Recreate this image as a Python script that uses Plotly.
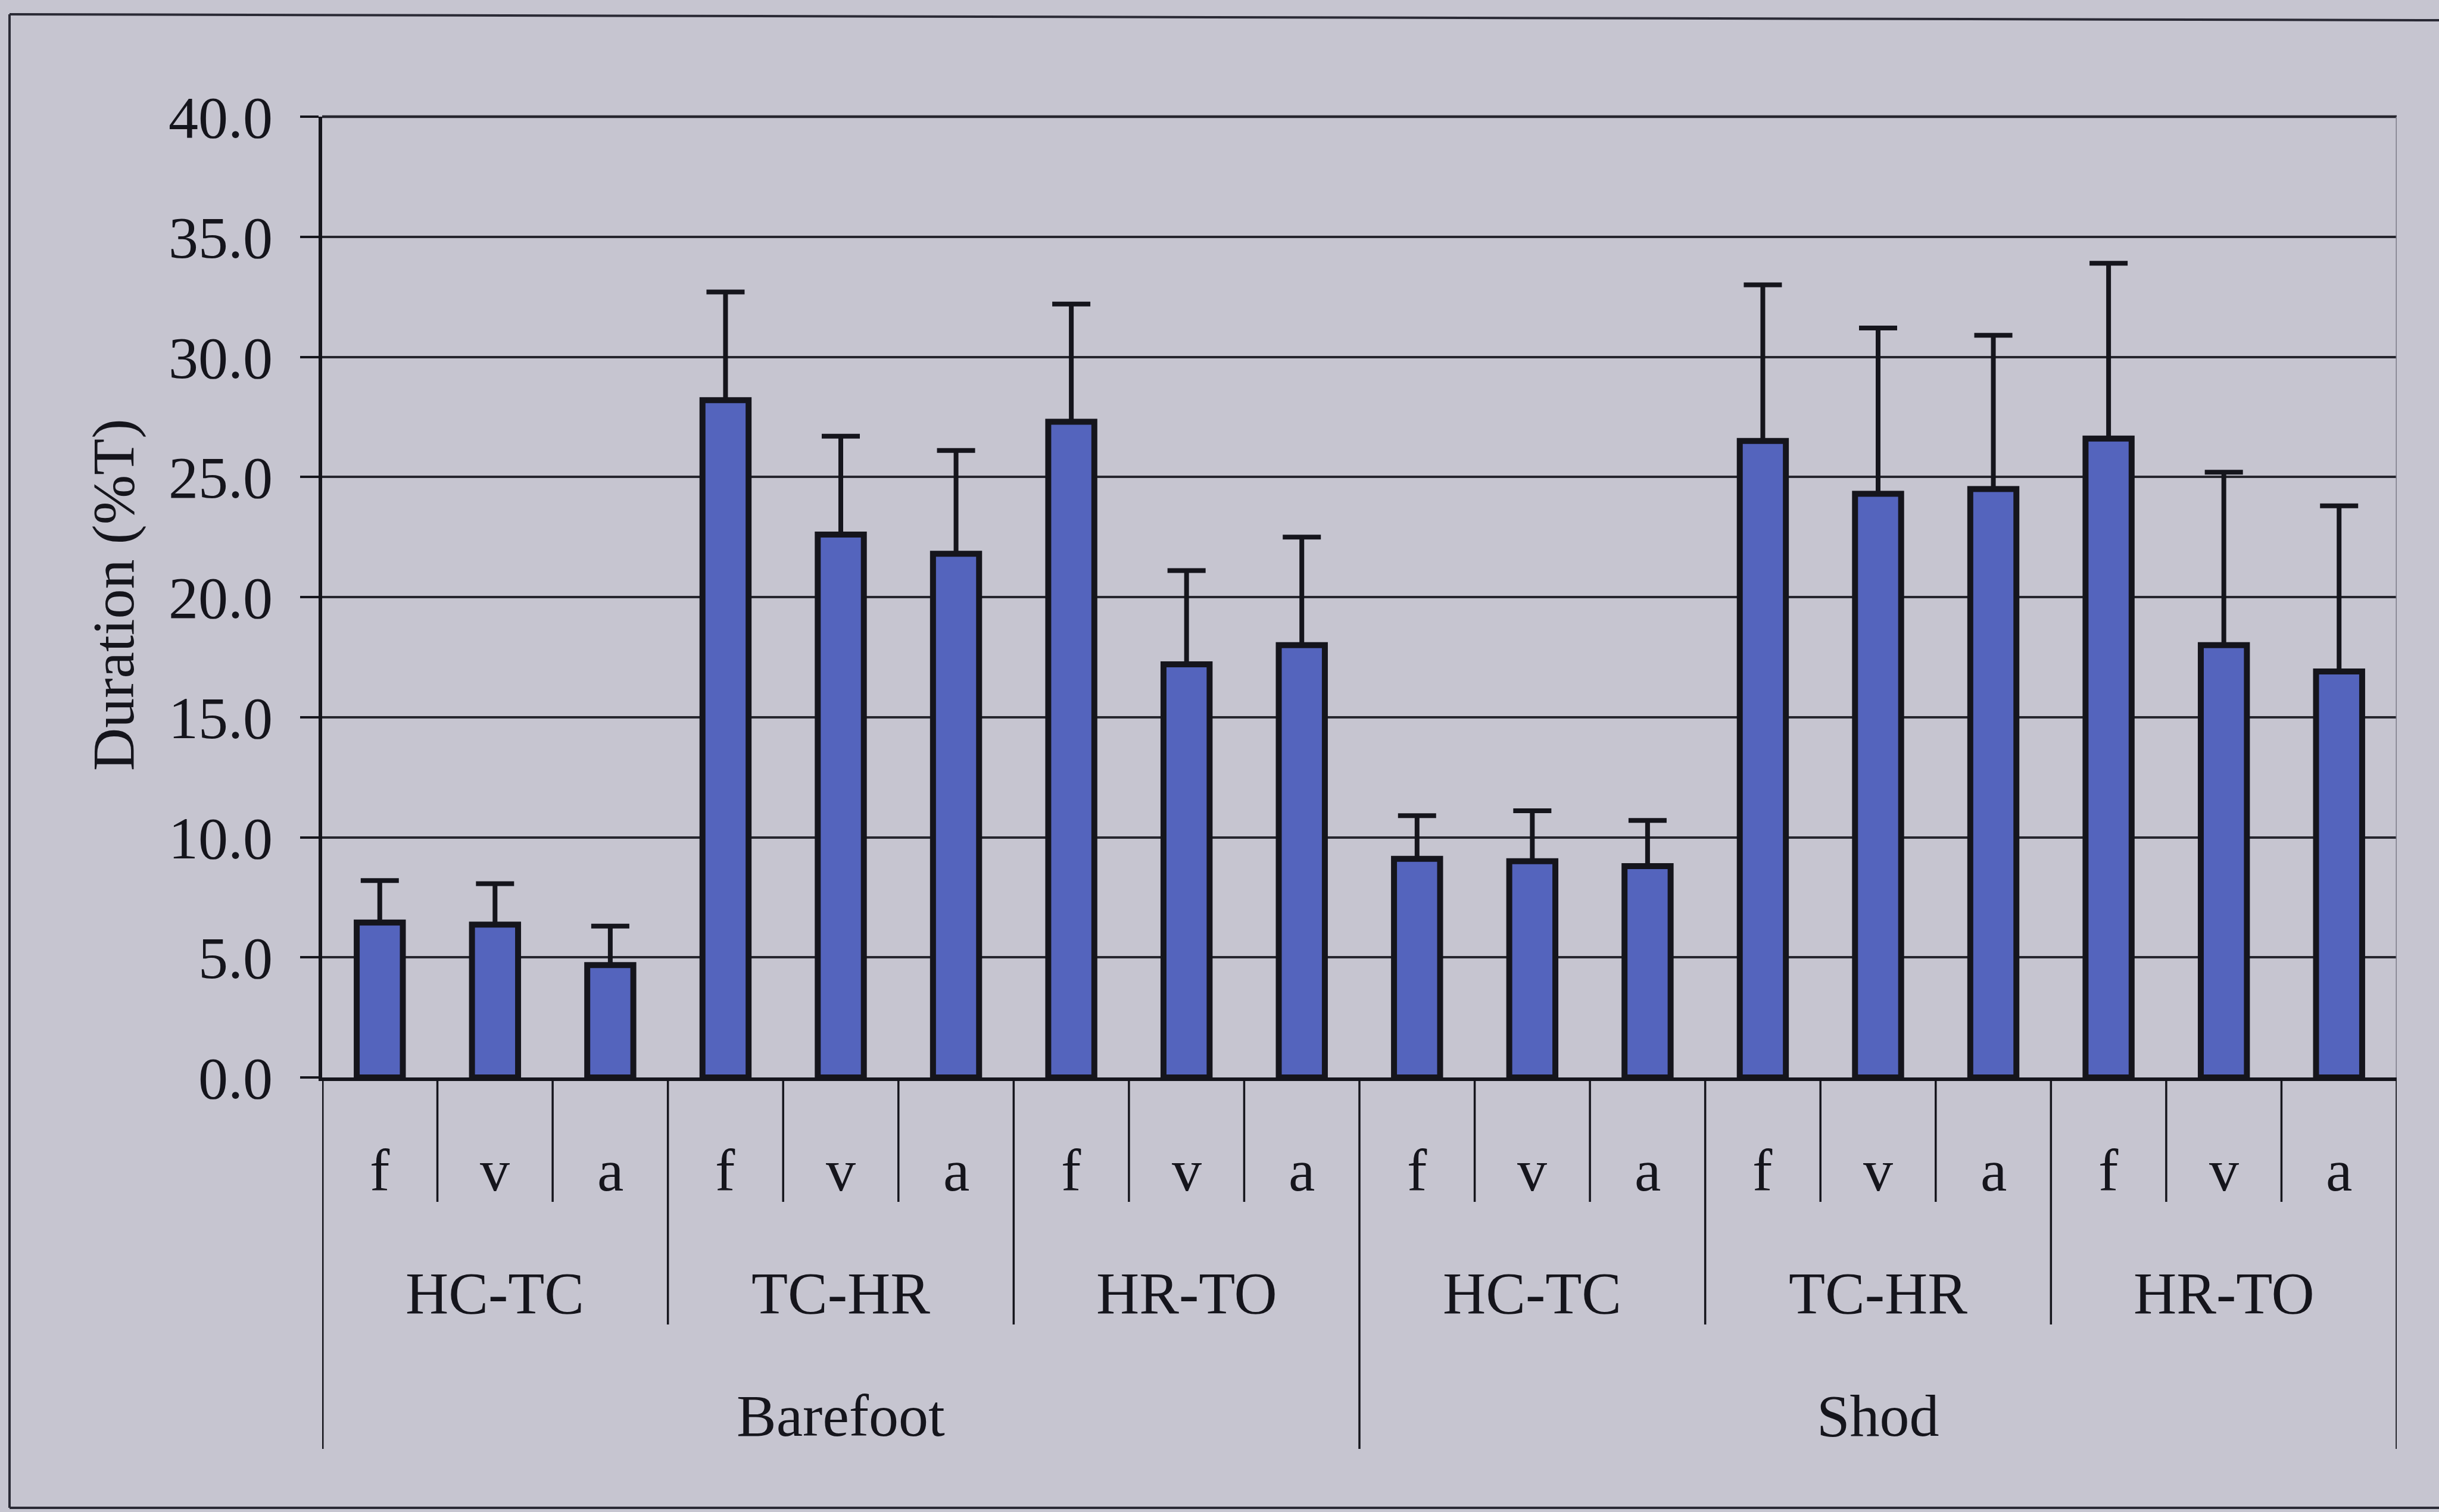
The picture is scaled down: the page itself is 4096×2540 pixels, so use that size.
import plotly.graph_objects as go

# ---------------- data ----------------
conditions = ["Barefoot", "Shod"]
phases = ["HC-TC", "TC-HR", "HR-TO"]
directions = ["f", "v", "a"]
duration_mean = [6.45, 6.36, 4.68, 28.2, 22.6, 21.8, 27.3, 17.2, 18.0,
                 9.1, 9.0, 8.8, 26.5, 24.3, 24.5, 26.6, 18.0, 16.9]
duration_sd = [1.75, 1.71, 1.62, 4.5, 4.1, 4.3, 4.9, 3.9, 4.5,
               1.8, 2.1, 1.9, 6.5, 6.9, 6.4, 7.3, 7.2, 6.9]
y_ticks = [0, 5, 10, 15, 20, 25, 30, 35, 40]
y_title = "Duration (%T)"

# ---------------- layout constants (pixels) ----------------
W, H = 4096, 2540
L, R, T, B = 541, 4025, 196, 1810
BG = "#c6c5d0"
BAR = "#5464bd"
INK = "#15151c"
FONT = "Liberation Serif"
FS = 100


def ypap(px):
    return (B - px) / (B - T)


def xpap(px):
    return (px - L) / (R - L)


n_dir = len(directions)
n_grp = len(phases) * n_dir
x_idx = list(range(len(duration_mean)))

fig = go.Figure()
fig.add_trace(go.Bar(
    x=x_idx,
    y=duration_mean,
    width=0.40,
    marker=dict(color=BAR, line=dict(color=INK, width=10)),
    error_y=dict(type="data", symmetric=False, array=duration_sd,
                 arrayminus=[0] * len(duration_sd),
                 color=INK, thickness=8, width=32),
    showlegend=False,
))

annotations = []
# direction labels
for i in x_idx:
    annotations.append(dict(x=i, y=ypap(1966), xref="x", yref="paper",
                            text=directions[i % n_dir], showarrow=False,
                            xanchor="center", yanchor="middle",
                            font=dict(family=FONT, size=FS, color=INK)))
# phase labels
for c in range(len(conditions)):
    for p in range(len(phases)):
        center = c * n_grp + p * n_dir + (n_dir - 1) / 2
        annotations.append(dict(x=center, y=ypap(2172), xref="x", yref="paper",
                                text=phases[p], showarrow=False,
                                xanchor="center", yanchor="middle",
                                font=dict(family=FONT, size=FS, color=INK)))
    center = c * n_grp + (n_grp - 1) / 2
    annotations.append(dict(x=center, y=ypap(2378), xref="x", yref="paper",
                            text=conditions[c], showarrow=False,
                            xanchor="center", yanchor="middle",
                            font=dict(family=FONT, size=FS, color=INK)))
# y title
annotations.append(dict(x=xpap(190), y=ypap(1000), xref="paper", yref="paper",
                        text=y_title, showarrow=False, textangle=-90,
                        xanchor="center", yanchor="middle",
                        font=dict(family=FONT, size=FS, color=INK)))

shapes = []
# top border of plot area (at the 40.0 line)
shapes.append(dict(type="line", xref="x", yref="paper",
                   x0=-0.5, x1=len(x_idx) - 0.5,
                   y0=1, y1=1,
                   line=dict(color="#26262e", width=4.5)))
# category table separators
for b in range(len(x_idx) + 1):
    if b % n_grp == 0:
        bottom = 2434
        lw = 5 if b == 0 else 3.5
    elif b % n_dir == 0:
        bottom = 2225
        lw = 3.5
    else:
        bottom = 2019
        lw = 3.5
    shapes.append(dict(type="line", xref="x", yref="paper",
                       x0=b - 0.5, x1=b - 0.5, y0=ypap(B), y1=ypap(bottom),
                       line=dict(color=INK, width=lw)))
# right border of plot area
shapes.append(dict(type="line", xref="x", yref="y",
                   x0=len(x_idx) - 0.5, x1=len(x_idx) - 0.5,
                   y0=y_ticks[0], y1=y_ticks[-1],
                   line=dict(color="#7c7b88", width=3)))
# outer frame of the picture
shapes.append(dict(type="line", xref="paper", yref="paper",
                   x0=xpap(16), x1=xpap(16), y0=ypap(24), y1=ypap(2533),
                   line=dict(color="#2a2a35", width=4)))
shapes.append(dict(type="line", xref="paper", yref="paper",
                   x0=xpap(16), x1=xpap(4100), y0=ypap(24), y1=ypap(34),
                   line=dict(color="#2a2a35", width=4)))
shapes.append(dict(type="line", xref="paper", yref="paper",
                   x0=xpap(16), x1=xpap(4100), y0=ypap(2533), y1=ypap(2533),
                   line=dict(color="#2a2a35", width=4)))

fig.update_layout(
    width=W, height=H,
    margin=dict(l=L, r=W - R, t=T, b=H - B, pad=0),
    paper_bgcolor=BG, plot_bgcolor=BG,
    font=dict(family=FONT, size=FS, color=INK),
    annotations=annotations,
    shapes=shapes,
    bargap=0.6,
    xaxis=dict(range=[-0.5, len(x_idx) - 0.5], showticklabels=False,
               showgrid=False, zeroline=False, showline=True,
               linecolor=INK, linewidth=6, ticks="", fixedrange=True),
    yaxis=dict(range=[y_ticks[0], y_ticks[-1]], tickvals=y_ticks,
               tickformat=".1f", ticks="outside", ticklen=31, tickwidth=3.5,
               tickcolor=INK, showgrid=True, gridcolor="#26262e", gridwidth=3.5,
               showline=True, linecolor=INK, linewidth=6, zeroline=False,
               ticklabelstandoff=26,
               tickfont=dict(family=FONT, size=FS, color=INK)),
)

fig.write_html("out.html")
